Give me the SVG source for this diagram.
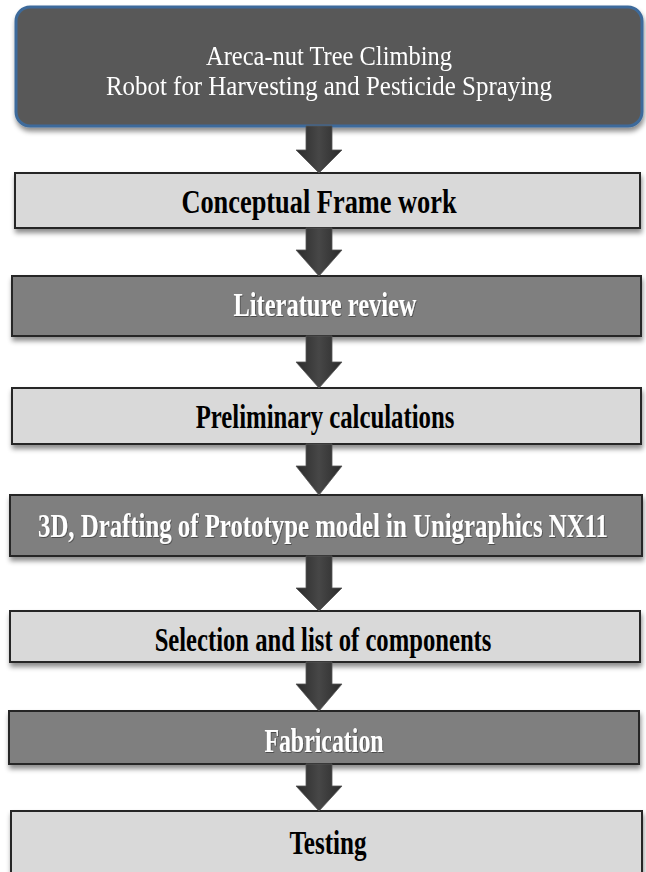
<svg xmlns="http://www.w3.org/2000/svg" width="646" height="872" viewBox="0 0 646 872">
  <style>
    .lbl { font-family: "Liberation Serif", "Times New Roman", serif; font-weight: bold; font-size: 33px; text-anchor: middle; }
    .dark-lbl { fill: #ffffff; filter: url(#txtShadow); }
    .light-lbl { fill: #000000; }
    .title { font-family: "Liberation Serif", "Times New Roman", serif; font-size: 28px; fill: #ffffff; text-anchor: middle; }
    .box-light { fill: #D9D9D9; stroke: #262626; stroke-width: 2; filter: url(#shadow); }
    .box-dark { fill: #7F7F7F; stroke: #262626; stroke-width: 2; filter: url(#shadow); }
    .arrow { fill: url(#arrowShade); stroke: #555555; stroke-width: 0.8; }
  </style>
  <defs>
    <filter id="shadow" x="-5%" y="-20%" width="110%" height="160%">
      <feDropShadow dx="1" dy="4" stdDeviation="2.5" flood-color="#000" flood-opacity="0.45"/>
    </filter>
    <filter id="txtShadow" filterUnits="userSpaceOnUse" x="-1000" y="-1000" width="3000" height="3000">
      <feDropShadow dx="1" dy="1" stdDeviation="0.6" flood-color="#000" flood-opacity="0.4"/>
    </filter>
    <linearGradient id="arrowShade" x1="0" y1="0" x2="1" y2="0">
      <stop offset="0" stop-color="#2b2b2b"/>
      <stop offset="0.5" stop-color="#474747"/>
      <stop offset="1" stop-color="#2b2b2b"/>
    </linearGradient>
  </defs>

  <!-- process steps; labels are narrowed horizontally with scale(0.75,1) -->
  <g id="node-title" filter="url(#shadow)">
    <rect x="16" y="7" width="626" height="119" rx="14" ry="14" fill="#595959" stroke="#3E6B9B" stroke-width="3"/>
    <text class="title" x="329" y="65" textLength="246" lengthAdjust="spacingAndGlyphs">Areca-nut Tree Climbing</text>
    <text class="title" x="329" y="95" textLength="446" lengthAdjust="spacingAndGlyphs">Robot for Harvesting and Pesticide Spraying</text>
  </g>

  <g id="node-conceptual">
    <rect class="box-light" x="15" y="173" width="625" height="55"/>
    <text class="lbl light-lbl" transform="translate(319,213) scale(0.75,1)" textLength="367" lengthAdjust="spacingAndGlyphs">Conceptual Frame work</text>
  </g>

  <g id="node-literature">
    <rect class="box-dark" x="12" y="276" width="629" height="60"/>
    <text class="lbl dark-lbl" transform="translate(325,316) scale(0.75,1)" textLength="244" lengthAdjust="spacingAndGlyphs">Literature review</text>
  </g>

  <g id="node-preliminary">
    <rect class="box-light" x="12" y="388" width="629" height="56"/>
    <text class="lbl light-lbl" transform="translate(325,428) scale(0.75,1)" textLength="345" lengthAdjust="spacingAndGlyphs">Preliminary calculations</text>
  </g>

  <g id="node-drafting">
    <rect class="box-dark" x="10" y="495" width="632" height="61"/>
    <text class="lbl dark-lbl" transform="translate(323,537) scale(0.75,1)" textLength="760" lengthAdjust="spacingAndGlyphs">3D, Drafting of Prototype model in Unigraphics NX11</text>
  </g>

  <g id="node-selection">
    <rect class="box-light" x="10" y="611" width="630" height="51"/>
    <text class="lbl light-lbl" transform="translate(323,651) scale(0.75,1)" textLength="449" lengthAdjust="spacingAndGlyphs">Selection and list of components</text>
  </g>

  <g id="node-fabrication">
    <rect class="box-dark" x="9" y="711" width="630" height="53"/>
    <text class="lbl dark-lbl" transform="translate(324,752) scale(0.75,1)" textLength="159" lengthAdjust="spacingAndGlyphs">Fabrication</text>
  </g>

  <g id="node-testing">
    <rect class="box-light" x="11" y="811" width="631" height="62"/>
    <text class="lbl light-lbl" transform="translate(328,854) scale(0.75,1)" textLength="103" lengthAdjust="spacingAndGlyphs">Testing</text>
  </g>

  <!-- block arrows between steps -->
  <g id="connectors">
    <path class="arrow" d="M306,126 H332 V150 H342 L319,173 L296,150 H306 Z"/>
    <path class="arrow" d="M306,228 H332 V250 H342 L319,276 L296,250 H306 Z"/>
    <path class="arrow" d="M306,336 H332 V362 H342 L319,388 L296,362 H306 Z"/>
    <path class="arrow" d="M306,444 H332 V466 H342 L319,495 L296,466 H306 Z"/>
    <path class="arrow" d="M306,556 H332 V588 H342 L319,611 L296,588 H306 Z"/>
    <path class="arrow" d="M306,662 H332 V684 H342 L319,711 L296,684 H306 Z"/>
    <path class="arrow" d="M306,764 H332 V786 H342 L319,811 L296,786 H306 Z"/>
  </g>
</svg>
